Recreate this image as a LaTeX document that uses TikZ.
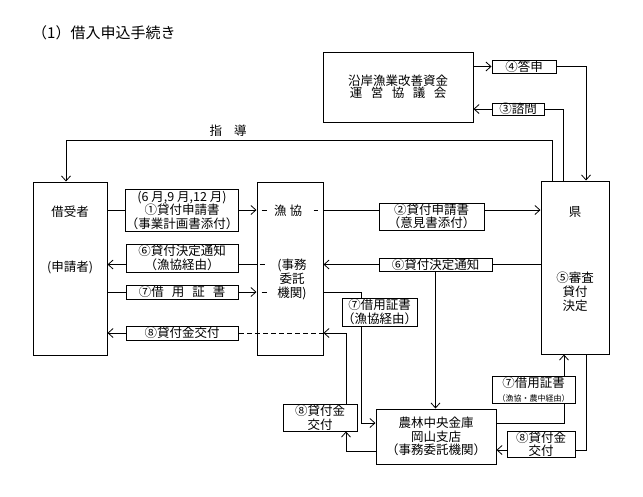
\documentclass[tikz,border=0pt]{standalone}
\usepackage{fontspec}
\setmainfont{Noto Sans CJK JP}
\usetikzlibrary{arrows.meta,calc}
\begin{document}
\begin{tikzpicture}[x=1pt,y=-1pt,
  box/.style={draw,line width=1pt,inner sep=0pt,align=center,font=\fontsize{12.5}{13.5}\selectfont},
  lbl/.style={inner sep=0pt,align=center,font=\fontsize{12.5}{14}\selectfont},
  ln/.style={line width=0.8pt},
  arr/.style={ln,-{Straight Barb[length=5pt,width=9pt]}},
  dsh/.style={ln,dash pattern=on 5pt off 3pt}]
\useasboundingbox (0,0) rectangle (643,496);
\fill[white] (0,0) rectangle (643,496);

% title
\node[lbl,anchor=west,font=\fontsize{15}{16}\selectfont] (title) at (32,33) {（1）借入申込手続き};

% main boxes
\node[box,minimum width=150pt,minimum height=70pt,font=\fontsize{12.5}{12.5}\selectfont] (council) at (398,87)
  {沿岸漁業改善資金\\運\hspace{8.5pt}営\hspace{8.5pt}協\hspace{8.5pt}議\hspace{8.5pt}会};
\node[box,minimum width=64pt,minimum height=13pt] (tosin) at (524,66.5) {④答申};
\node[box,minimum width=52pt,minimum height=12pt] (shimon) at (518,109) {③諮問};

\node[box,minimum width=74pt,minimum height=173pt] (borrower) at (70,268.5) {};
\node[box,minimum width=66pt,minimum height=173pt] (gyokyo) at (290,268.5) {};
\node[box,minimum width=68pt,minimum height=173pt] (ken) at (575,267.5) {};

\node[lbl] (tB1) at (70,212) {借受者};
\node[lbl] (tB2) at (70,267) {(申請者)};
\node[lbl] (tG1) at (288,211) {漁\hspace{3pt}協};
\node[lbl,font=\fontsize{12.5}{14}\selectfont] (tG2) at (292,279) {(事務\\委託\\機関)};
\node[lbl] (tK1) at (575,212) {県};
\node[lbl,font=\fontsize{12.5}{14}\selectfont] (tK2) at (575,292) {⑤審査\\貸付\\決定};

% left label boxes
\node[box,minimum width=112pt,minimum height=42pt] (b1) at (182,210)
  {(6 月,9 月,12 月)\\①貸付申請書\\（事業計画書添付）};
\node[box,minimum width=112pt,minimum height=28pt] (b6L) at (182,258) {⑥貸付決定通知\\（漁協経由）};
\node[box,minimum width=112pt,minimum height=14pt] (b7L) at (182,292)
  {⑦借\hspace{8pt}用\hspace{8pt}証\hspace{8pt}書};
\node[box,minimum width=112pt,minimum height=14pt] (b8L) at (182,333) {⑧貸付金交付};

% middle label boxes
\node[box,minimum width=105pt,minimum height=27pt] (b2) at (431.5,216.5) {②貸付申請書\\（意見書添付）};
\node[box,minimum width=113pt,minimum height=13pt] (b6M) at (435.5,264.5) {⑥貸付決定通知};
\node[box,minimum width=75pt,minimum height=28pt] (b7M) at (379.5,312) {⑦借用証書\\（漁協経由）};

% bottom
\node[box,minimum width=120pt,minimum height=55pt] (nochu) at (436,436.5)
  {農林中央金庫\\岡山支店\\（事務委託機関）};
\node[box,minimum width=74pt,minimum height=27pt] (b8B) at (320,417.5) {⑧貸付金\\交付};
\node[box,minimum width=83pt,minimum height=27pt] (b7R) at (533.5,389.5)
  {⑦借用証書\\{\fontsize{8}{9}\selectfont （漁協・農中経由）}};
\node[box,minimum width=68pt,minimum height=26pt] (b8R) at (541,444) {⑧貸付金\\交付};

% helper coordinates
\coordinate (x586) at (586,0);
\coordinate (x563) at (563,0);
\coordinate (x564) at (564,0);
\coordinate (x361) at (361,0);
\coordinate (x346) at (346,0);
\coordinate (g1) at (552,140);
\coordinate (g2) at (66,140);
\coordinate (y423) at (0,423);
\coordinate (y451) at (0,451);
\coordinate (y450) at (0,450);

% council connections
\draw[arr] (council.east |- tosin) -- (tosin.west);
\draw[arr] (tosin.east) -| (x586 |- ken.north);
\draw[ln] (x563 |- ken.north) |- (shimon.east);
\draw[arr] (shimon.west) -- (council.east |- shimon);

% guidance
\draw[arr] (g1 |- ken.north) -- (g1) -- (g2) -- (g2 |- borrower.north);
\node[lbl] (shidou) at (228,131) {指\hspace{12pt}導};

% row 1
\draw[ln] (borrower.east |- b1) -- (b1.west);
\draw[arr] (b1.east) -- (gyokyo.west |- b1);
\draw[ln] ($(gyokyo.west |- b1)+(5,0)$) -- ++(5,0);
\draw[ln] ($(gyokyo.east |- b1)+(-10,0)$) -- ++(4,0);
\draw[ln] (gyokyo.east |- b1) -- (b2.west |- b1);
\draw[arr] (b2.east |- b1) -- (ken.west |- b1);

% row 6
\draw[ln] (ken.west |- b6M) -- (b6M.east);
\draw[arr] (b6M.west) -- (gyokyo.east |- b6M);
\draw[ln] ($(gyokyo.west |- b6M)+(3,0)$) -- ++(5,0);
\draw[ln] (gyokyo.west |- b6M) -- (b6L.east |- b6M);
\draw[arr] (b6L.west |- b6M) -- (borrower.east |- b6M);
\draw[arr] (b6M.south) -- (b6M.south |- nochu.north);

% row 7
\draw[ln] (borrower.east |- b7L) -- (b7L.west);
\draw[arr] (b7L.east) -- (gyokyo.west |- b7L);
\draw[ln] ($(gyokyo.west |- b7L)+(5,0)$) -- ++(5,0);
\draw[ln] (gyokyo.east |- b7L) -| (x361 |- b7M.north);
\draw[arr] (x361 |- b7M.south) |- (nochu.west |- y423);

% row 8
\draw[arr] (x346 |- b8B.north) |- (gyokyo.east |- b8L);
\draw[dsh] (gyokyo.east |- b8L) -- (b8L.east);
\draw[arr] (b8L.west) -- (borrower.east |- b8L);
\draw[arr] (nochu.west |- y451) -| (x346 |- b8B.south);

% right bottom
\draw[ln] (nochu.east |- y423) -| (x564 |- b7R.south);
\draw[arr] (x564 |- b7R.north) -- (x564 |- ken.south);
\draw[ln] (x586 |- ken.south) |- (b8R.east |- y450);
\draw[arr] (b8R.west |- y450) -- (nochu.east |- y450);
\end{tikzpicture}
\end{document}
